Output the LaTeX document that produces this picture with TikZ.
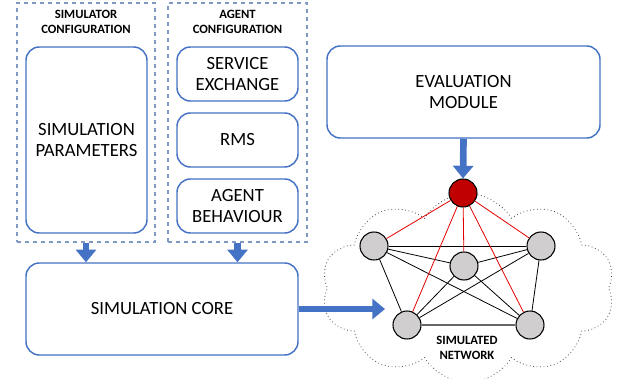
\documentclass[tikz,border=0pt]{standalone}
\usepackage{fontspec}
\setmainfont{Carlito}
\usetikzlibrary{arrows.meta,shapes.symbols}
\definecolor{boxblue}{RGB}{68,114,196}
\definecolor{cfgblue}{RGB}{128,152,196}
\definecolor{hubred}{RGB}{192,0,0}
\definecolor{peergray}{RGB}{208,206,206}
\tikzset{
	block/.style={draw=boxblue,line width=1.1pt,rounded corners=10pt,fill=white,align=center,font=\fontsize{14}{16}\selectfont},
	cfgbox/.style={draw=cfgblue,dashed,line width=0.8pt},
	title/.style={align=center,font=\fontsize{9.5}{11.2}\selectfont\bfseries},
	flow/.style={boxblue,line width=5pt,-{Triangle[width=15pt,length=9.5pt]}},
	peer/.style={circle,draw,line width=0.8pt,fill=peergray,minimum size=21pt,inner sep=0pt},
}
\begin{document}
\begin{tikzpicture}[x=0.75pt,y=-0.75pt]
	\useasboundingbox (0,0) rectangle (620,378);
	% configuration panels
	\node[cfgbox,minimum width=103.5pt,minimum height=179.25pt] (simcfg) at (86,122.5) {};
	\node[cfgbox,minimum width=104.25pt,minimum height=179.25pt] (agentcfg) at (237.5,122.5) {};
	\node[title] at (86,21.5) {SIMULATOR\\CONFIGURATION};
	\node[title] at (237.5,21.5) {AGENT\\CONFIGURATION};
	\node[block,minimum width=90.75pt,minimum height=139.5pt] (params) at (86.5,140) {SIMULATION\\PARAMETERS};
	\node[block,minimum width=90.75pt,minimum height=40.5pt] (service) at (237.5,74) {SERVICE\\EXCHANGE};
	\node[block,minimum width=90.75pt,minimum height=40.5pt] (rms) at (237.5,140) {RMS};
	\node[block,minimum width=90.75pt,minimum height=40.5pt] (behaviour) at (237.5,206) {AGENT\\BEHAVIOUR};
	\node[block,minimum width=204pt,minimum height=69pt] (core) at (162,309) {SIMULATION CORE};
	\node[block,minimum width=204.75pt,minimum height=69pt] (eval) at (463.5,92) {EVALUATION\\MODULE};
	% simulated network
	\node[cloud,draw=black!70,dotted,line width=0.6pt,cloud puffs=10,cloud puff arc=120,aspect=1.6,minimum width=220pt,minimum height=142pt] (cloud) at (468,288) {};
	\node[title] at (467,348) {SIMULATED\\NETWORK};
	\node[peer,fill=hubred] (hub) at (463,193) {};
	\node[peer] (lt) at (374,246) {};
	\node[peer] (rt) at (541,246) {};
	\node[peer] (mid) at (464,266) {};
	\node[peer] (bl) at (407,325) {};
	\node[peer] (br) at (530,325) {};
	\foreach \a/\b in {lt/rt,lt/mid,lt/bl,lt/br,rt/mid,rt/bl,rt/br,mid/bl,mid/br}
		\draw[line width=0.6pt] (\a) -- (\b);
	\draw[gray!80!black,line width=1.3pt] (bl) -- (br);
	\foreach \b in {lt,rt,mid,bl,br}
		\draw[red!90!black,line width=0.6pt] (hub) -- (\b);
	% data flow
	\coordinate (inlet) at (385,309);
	\draw[flow] (simcfg.south) -- (simcfg.south |- core.north);
	\draw[flow] (agentcfg.south) -- (agentcfg.south |- core.north);
	\draw[flow] (core.east) -- (inlet);
	\draw[flow] (eval.south) -- (hub.north);
\end{tikzpicture}
\end{document}
